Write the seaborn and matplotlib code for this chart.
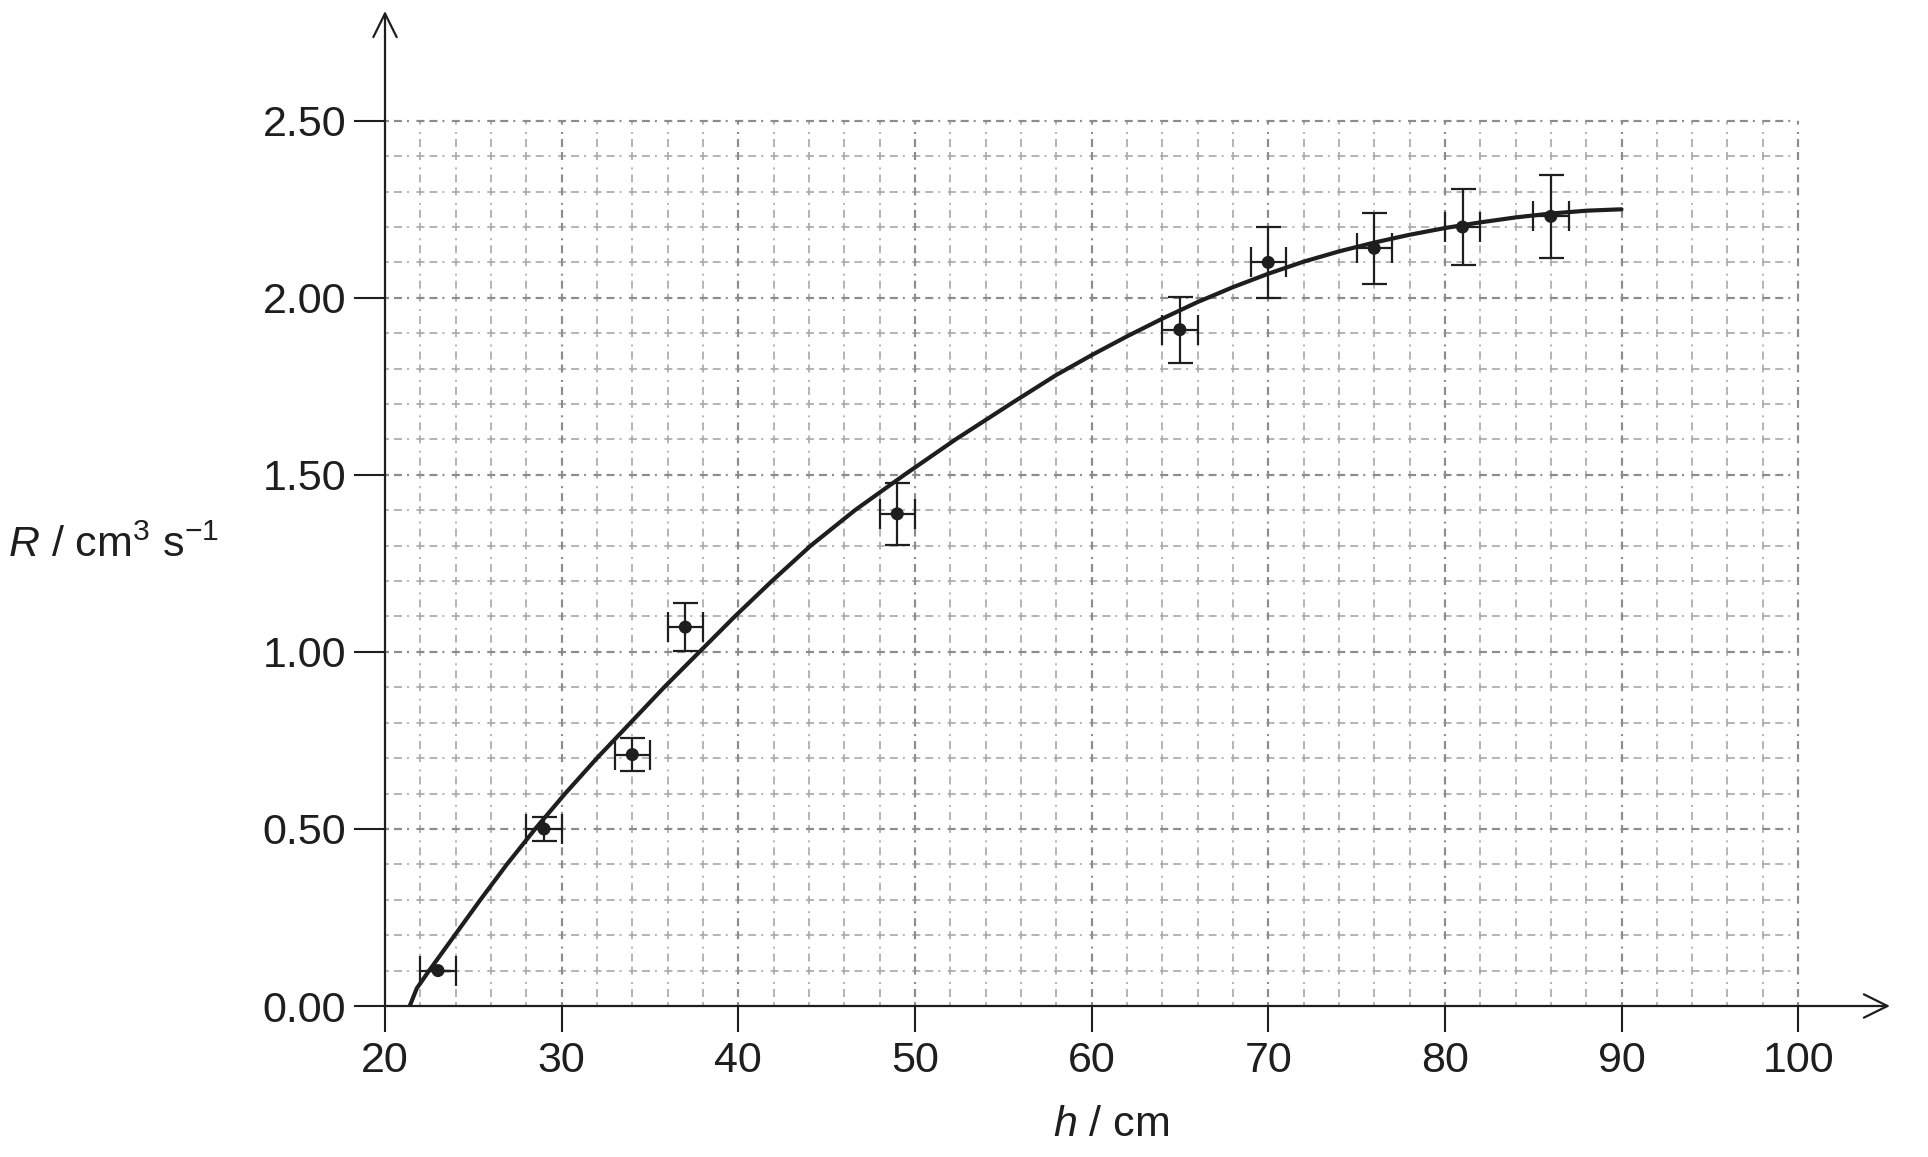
import numpy as np
import matplotlib
matplotlib.use("Agg")
import matplotlib.pyplot as plt
import seaborn as sns


# --------- data --------- #
h = [23, 29, 34, 37, 49, 65, 70, 76, 81, 86]
R = [0.10, 0.50, 0.71, 1.07, 1.39, 1.91, 2.10, 2.14, 2.20, 2.23]
h_err = [1, 1, 1, 1, 1, 1, 1, 1, 1, 1]
R_err = [0.0, 0.035, 0.047, 0.067, 0.087, 0.093, 0.10, 0.10, 0.107, 0.117]

# hand-drawn best-fit curve
curve_h = [21.4, 21.8, 22.5, 23.95, 25.4, 26.9, 28.5, 30.2, 32.0, 33.9, 35.8,
           37.8, 39.8, 41.9, 44.1, 46.6, 49.4, 52.3, 55.4, 58, 60, 62, 64,
           66, 68, 70, 72, 74, 76, 78, 80, 82, 84, 86, 88, 90]
curve_R = [0.0, 0.05, 0.1, 0.2, 0.3, 0.4, 0.5, 0.6, 0.7, 0.8, 0.9,
           1.0, 1.1, 1.2, 1.3, 1.4, 1.5, 1.6, 1.7, 1.782, 1.838, 1.891, 1.941,
           1.988, 2.030, 2.068, 2.102, 2.131, 2.156, 2.178, 2.197, 2.213, 2.227, 2.238, 2.246, 2.25]

x_ticks = [20, 30, 40, 50, 60, 70, 80, 90, 100]
y_ticks = [0.0, 0.5, 1.0, 1.5, 2.0, 2.5]
y_ticklabels = ["0.00", "0.50", "1.00", "1.50", "2.00", "2.50"]

INK = "#1e1e1e"
FS = 31

sns.set_style("white")
plt.rcParams["font.family"] = ["Liberation Sans", "DejaVu Sans"]
plt.rcParams["mathtext.fontset"] = "custom"
plt.rcParams["mathtext.rm"] = "Liberation Sans"
plt.rcParams["mathtext.it"] = "Liberation Sans:italic"
plt.rcParams["lines.scale_dashes"] = False

XMAX = 105.2
fig = plt.figure(figsize=(19.28, 11.57), dpi=100)
ax = fig.add_axes([385 / 1928, 151 / 1157, 1505 / 1928, 995 / 1157])
ax.set_xlim(20, XMAX)
ax.set_ylim(0, 2.81)
for s in ax.spines.values():
    s.set_visible(False)

# --------- graph paper grid --------- #
dash = (2.88, (5.76, 3.6, 5.76, 3.6, 1.44, 5.34))
minor_x = [v for v in range(22, 101, 2) if v % 10 != 0]
major_x = list(range(30, 101, 10))
minor_y = [round(v * 0.1, 1) for v in range(1, 26) if v % 5 != 0]
major_y = [0.5, 1.0, 1.5, 2.0, 2.5]
ax.vlines(minor_x, 0, 2.5, colors="#a8a8a8", linewidth=1.2, linestyles=[dash], zorder=1)
ax.hlines(minor_y, 20, 100, colors="#a8a8a8", linewidth=1.2, linestyles=[dash], zorder=1)
ax.vlines(major_x, 0, 2.5, colors="#8c8c8c", linewidth=1.55, linestyles=[dash], zorder=1.1)
ax.hlines(major_y, 20, 100, colors="#8c8c8c", linewidth=1.55, linestyles=[dash], zorder=1.1)

# --------- curve and data --------- #
sns.lineplot(x=curve_h, y=curve_R, color=INK, linewidth=3.0, estimator=None,
             sort=False, ax=ax, zorder=3)
ax.errorbar(h, R, yerr=R_err, fmt="none", ecolor=INK, elinewidth=1.6,
            capsize=9, capthick=1.6, zorder=4)
ax.errorbar(h, R, xerr=h_err, fmt="none", ecolor=INK, elinewidth=1.6,
            capsize=10.8, capthick=1.6, zorder=4)
sns.scatterplot(x=h, y=R, color=INK, s=88, edgecolor="none", ax=ax, zorder=5)

# --------- axes with arrows --------- #
arrow = dict(arrowstyle="->,head_length=0.85,head_width=0.42", lw=1.6, color=INK,
             shrinkA=0, shrinkB=0, mutation_scale=20)
ax.annotate("", xy=(20, 2.81), xytext=(20, 0), arrowprops=arrow, annotation_clip=False, zorder=6)
ax.annotate("", xy=(XMAX, 0), xytext=(20, 0), arrowprops=arrow, annotation_clip=False, zorder=6)

ax.set_xticks(x_ticks)
ax.set_xticklabels([str(v) for v in x_ticks])
ax.set_yticks(y_ticks)
ax.set_yticklabels(y_ticklabels)
ax.tick_params(axis="x", direction="out", length=19, width=1.5, color=INK,
               labelsize=FS, labelcolor=INK, pad=6, bottom=True)
ax.tick_params(axis="y", direction="out", length=22, width=1.5, color=INK,
               labelsize=FS, labelcolor=INK, pad=6, left=True)

ax.set_xlabel("$h$ / cm", fontsize=FS, color=INK, va="center")
ax.xaxis.set_label_coords((1111 - 385) / 1505, -0.12)
ax.set_ylabel("$R$ / cm$^{3}$ s$^{-1}$", fontsize=FS, color=INK, rotation=0,
              ha="right", va="center")
ax.yaxis.set_label_coords(-166 / 1505, 1.30 / 2.81)

fig.savefig("out.png", dpi=100, facecolor="white")
